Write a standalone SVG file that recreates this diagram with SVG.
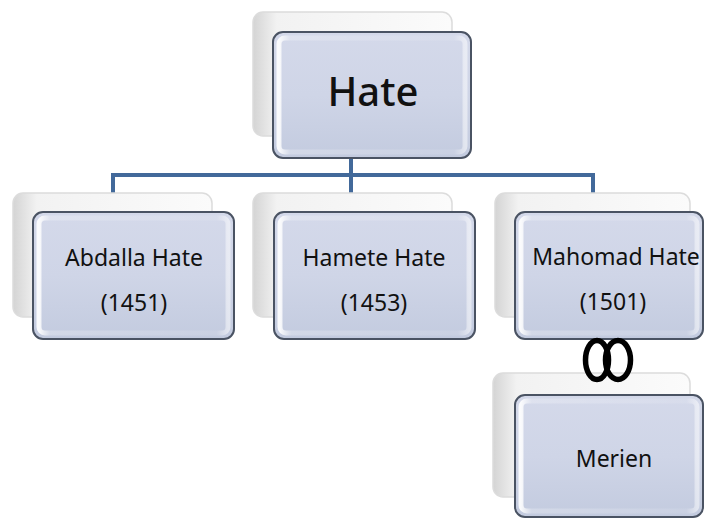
<svg xmlns="http://www.w3.org/2000/svg" width="706" height="519" viewBox="0 0 706 519">
  <defs>
    <linearGradient id="backFill" x1="0" y1="0" x2="1" y2="0">
      <stop offset="0" stop-color="#d4d4d4"/>
      <stop offset="0.12" stop-color="#f2f2f2"/>
      <stop offset="1" stop-color="#fbfbfb"/>
    </linearGradient>
    <linearGradient id="frontFill" x1="0" y1="0" x2="0" y2="1">
      <stop offset="0" stop-color="#d4d9ea"/>
      <stop offset="0.5" stop-color="#cfd5e7"/>
      <stop offset="1" stop-color="#c3cbdf"/>
    </linearGradient>
    <linearGradient id="bevel" x1="0" y1="0" x2="1" y2="0">
      <stop offset="0" stop-color="#ffffff" stop-opacity="0.9"/>
      <stop offset="0.06" stop-color="#ffffff" stop-opacity="0.25"/>
      <stop offset="0.94" stop-color="#ffffff" stop-opacity="0.1"/>
      <stop offset="1" stop-color="#ffffff" stop-opacity="0.5"/>
    </linearGradient>
  </defs>
  <style>
    .back { fill: url(#backFill); stroke: #dcdcdc; stroke-width: 1.5; }
    .front { fill: url(#frontFill); stroke: #4a5363; stroke-width: 2; }
    .inner { fill: none; stroke: url(#bevel); stroke-width: 5; }
    .link { stroke: #42699a; stroke-width: 4; fill: none; }
    .lbl { font-family: "Noto Sans", "Open Sans", sans-serif; font-size: 23px; fill: #111111; text-anchor: middle; }
    .title { font-family: "Noto Sans", "Open Sans", sans-serif; font-size: 40px; font-weight: 500; fill: #111111; text-anchor: middle; }
    .ring { fill: none; stroke: #000000; stroke-width: 5.5; }
  </style>

  <rect width="706" height="519" fill="#ffffff"/>

  <!-- connectors -->
  <g id="connectors">
    <path class="link" d="M113 193 V175 H593 V193"/>
    <path class="link" d="M351 158 V193"/>
  </g>

  <!-- root -->
  <g id="node-hate">
    <rect class="back" x="253" y="12" width="199" height="124" rx="10"/>
    <rect class="front" x="273" y="32" width="198" height="126" rx="10"/>
    <rect class="inner" x="279" y="38" width="186" height="114" rx="6"/>
    <text class="title" x="373" y="106">Hate</text>
  </g>

  <g id="node-abdalla">
    <rect class="back" x="13" y="193" width="199" height="124" rx="10"/>
    <rect class="front" x="33" y="212" width="201" height="127" rx="10"/>
    <rect class="inner" x="39" y="218" width="189" height="115" rx="6"/>
    <text class="lbl" x="134" y="266">Abdalla Hate</text>
    <text class="lbl" x="134" y="311">(1451)</text>
  </g>

  <g id="node-hamete">
    <rect class="back" x="253" y="193" width="199" height="124" rx="10"/>
    <rect class="front" x="274" y="212" width="201" height="127" rx="10"/>
    <rect class="inner" x="280" y="218" width="189" height="115" rx="6"/>
    <text class="lbl" x="374" y="266">Hamete Hate</text>
    <text class="lbl" x="374" y="311">(1453)</text>
  </g>

  <g id="node-mahomad">
    <rect class="back" x="495" y="193" width="195" height="124" rx="10"/>
    <rect class="front" x="515" y="212" width="188" height="127" rx="10"/>
    <rect class="inner" x="521" y="218" width="176" height="115" rx="6"/>
    <text class="lbl" x="616" y="265">Mahomad Hate</text>
    <text class="lbl" x="613" y="310">(1501)</text>
  </g>

  <g id="node-merien">
    <rect class="back" x="493" y="373" width="197" height="124" rx="10"/>
    <rect class="front" x="515" y="395" width="188" height="122" rx="10"/>
    <rect class="inner" x="521" y="401" width="176" height="110" rx="6"/>
    <text class="lbl" x="614" y="467">Merien</text>
  </g>

  <!-- marriage rings, drawn over the box edges -->
  <g id="rings">
    <ellipse class="ring" cx="597" cy="360" rx="11.5" ry="19.5"/>
    <ellipse class="ring" cx="618" cy="360" rx="12.5" ry="19.5"/>
  </g>
</svg>
